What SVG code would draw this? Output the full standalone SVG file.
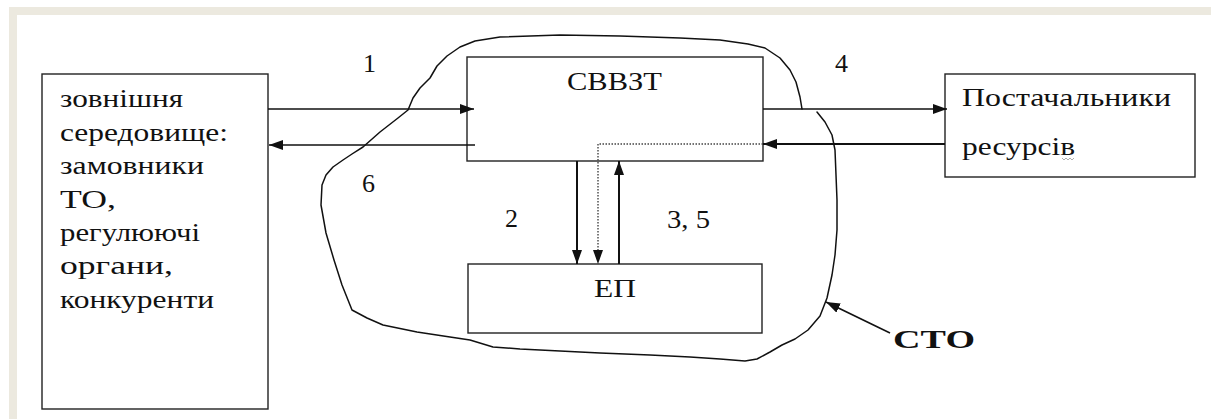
<svg xmlns="http://www.w3.org/2000/svg" width="1211" height="419" viewBox="0 0 1211 419">
<style>
  .box{fill:#fff;stroke:#222;stroke-width:1.4}
  text{font-family:'Liberation Serif','Times New Roman',serif;font-size:26px;fill:#111}
  .b{font-weight:bold}
  .ln{fill:none;stroke:#111;stroke-width:1.6}
  .th{stroke-width:2}
  .dot{fill:none;stroke:#444;stroke-width:1.4;stroke-dasharray:1.5 1.5}
  .blob{fill:none;stroke:#111;stroke-width:1.5;stroke-linejoin:round;stroke-linecap:round}
</style>
<defs>
  <marker id="ah" viewBox="0 0 14 10" refX="14" refY="5" markerWidth="14" markerHeight="10" markerUnits="userSpaceOnUse" orient="auto">
    <path d="M0,0 L14,5 L0,10 Z" fill="#111"/>
  </marker>
</defs>
<rect x="0" y="0" width="1211" height="419" fill="#fff"/>
<rect x="9" y="7" width="1202" height="8" fill="#ECE9DF"/>
<rect x="9" y="7" width="8" height="412" fill="#ECE9DF"/>

<g id="sto-boundary">
  <path class="blob" d="M817,112 L825,122 L832,135 L835,150 L836,175 L837,200 L837,230 L835,255 L832,275 L827,298 L820,316 L808,330 L795,339 L782,345 L770,352 L757,359 L745,361 L720,359 L690,357 L650,355 L600,353 L560,351 L520,349 L493,347 L470,340 L450,337 L417,332 L383,325 L367,318 L352,310 L342,285 L334,260 L326,233 L321,205 L322,185 L326,175 L333,167 L343,160 L352,154 L363,147 L380,132 L398,118 L408,110 L413,98 L420,88 L430,78 L437,66 L447,56 L460,47 L475,41 L500,37 L560,35 L620,36 L680,38 L720,40 L748,44 L765,48 L780,58 L790,70 L796,82 L800,97 L802,109"/>
</g>

<g id="external">
  <rect class="box" x="42" y="74" width="226" height="335"/>
  <text x="60" y="107" textLength="123" lengthAdjust="spacingAndGlyphs">зовнішня</text>
  <text x="60" y="141" textLength="168" lengthAdjust="spacingAndGlyphs">середовище:</text>
  <text x="60" y="174" textLength="144" lengthAdjust="spacingAndGlyphs">замовники</text>
  <text x="60" y="208" textLength="56" lengthAdjust="spacingAndGlyphs">ТО,</text>
  <text x="60" y="241" textLength="140" lengthAdjust="spacingAndGlyphs">регулюючі</text>
  <text x="60" y="274" textLength="113" lengthAdjust="spacingAndGlyphs">органи,</text>
  <text x="60" y="308" textLength="154" lengthAdjust="spacingAndGlyphs">конкуренти</text>
</g>

<g id="svvzt">
  <rect class="box" x="467" y="57" width="296" height="104"/>
  <text x="567" y="90" textLength="95" lengthAdjust="spacingAndGlyphs">СВВЗТ</text>
</g>

<g id="ep">
  <rect class="box" x="468" y="264" width="294" height="69"/>
  <text x="594" y="297" textLength="42" lengthAdjust="spacingAndGlyphs">ЕП</text>
</g>

<g id="suppliers">
  <rect class="box" x="945" y="74" width="250" height="103"/>
  <text x="962" y="106" textLength="209" lengthAdjust="spacingAndGlyphs">Постачальники</text>
  <text x="962" y="155" textLength="113" lengthAdjust="spacingAndGlyphs">ресурсів</text>
  <path d="M1062,158 l2,2 l2,-2 l2,2 l2,-2 l2,2 l2,-2" fill="none" stroke="#999" stroke-width="0.8"/>
</g>

<g id="connectors">
  <line class="ln" x1="268" y1="109" x2="474" y2="109" marker-end="url(#ah)"/>
  <line class="ln" x1="475" y1="145" x2="269" y2="145" marker-end="url(#ah)"/>
  <line class="ln" x1="763" y1="109" x2="947" y2="109" marker-end="url(#ah)"/>
  <line class="ln th" x1="945" y1="144" x2="763" y2="144" marker-end="url(#ah)"/>
  <path class="dot" d="M763,144 L598,144 L598,250"/>
  <line class="ln" x1="598" y1="250" x2="598" y2="264" marker-end="url(#ah)" stroke-opacity="0"/>
  <line class="ln th" x1="577" y1="161" x2="577" y2="264" marker-end="url(#ah)"/>
  <line class="ln th" x1="619" y1="264" x2="619" y2="161" marker-end="url(#ah)"/>
  <line class="ln" x1="890" y1="333" x2="826" y2="302" marker-end="url(#ah)"/>
</g>

<g id="labels">
  <text x="363" y="72">1</text>
  <text x="835" y="72">4</text>
  <text x="362" y="192">6</text>
  <text x="505" y="227">2</text>
  <text x="667" y="228" textLength="43" lengthAdjust="spacingAndGlyphs">3, 5</text>
  <text class="b" x="893" y="348" textLength="82" lengthAdjust="spacingAndGlyphs">СТО</text>
</g>
</svg>
